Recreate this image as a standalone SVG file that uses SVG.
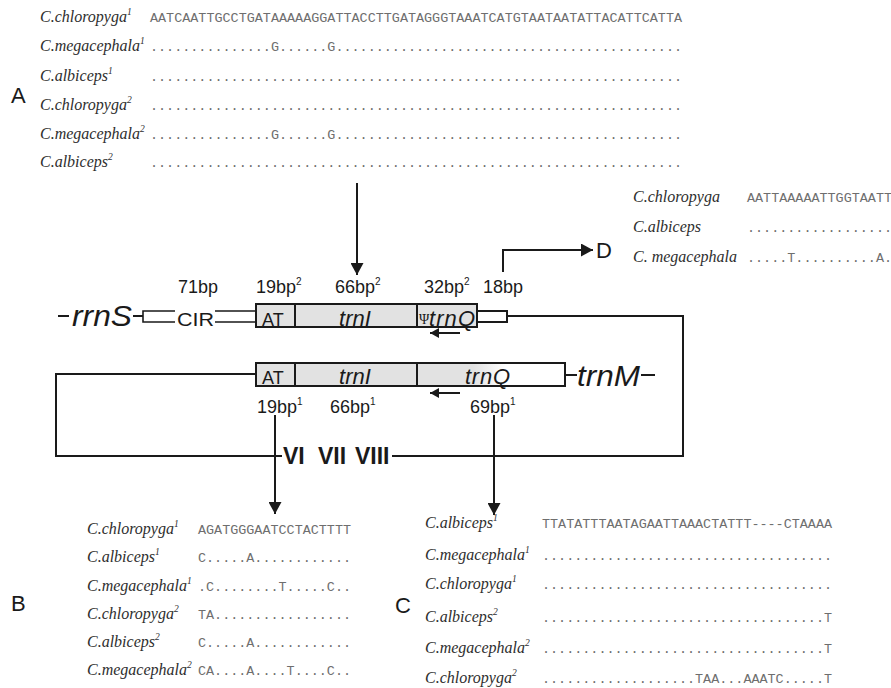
<svg xmlns="http://www.w3.org/2000/svg" width="891" height="688" viewBox="0 0 891 688">
<style>
.ln{stroke:#1a1a1a;stroke-width:2;fill:none}
.thin{stroke:#1a1a1a;stroke-width:1.6;fill:none}
.box{stroke:#1a1a1a;stroke-width:2;fill:#e2e2e2}
.wbox{stroke:#1a1a1a;stroke-width:2;fill:#ffffff}
.lab{font-family:"Liberation Sans",Arial,sans-serif;font-size:18px;fill:#1a1a1a}
.sup{font-size:10px}
.gene{font-family:"Liberation Sans",Arial,sans-serif;font-style:italic;font-size:22px;fill:#1a1a1a}
.big{font-family:"Liberation Sans",Arial,sans-serif;font-style:italic;font-size:29px;fill:#1a1a1a}
.roman{font-family:"Liberation Sans",Arial,sans-serif;font-weight:bold;font-size:23px;fill:#1a1a1a}
.sp{font-family:"Liberation Serif","Times New Roman",serif;font-style:italic;font-size:16px;fill:#2e2e2e}
.ssup{font-size:9.5px}
.seq{font-family:"Liberation Mono","Courier New",monospace;font-size:13.43px;fill:#6e6e6e}
.pan{font-family:"Liberation Sans",Arial,sans-serif;font-size:22px;fill:#1a1a1a}
</style>
<defs>
<marker id="ah" markerWidth="13" markerHeight="13" refX="12" refY="6.5" orient="auto" markerUnits="userSpaceOnUse"><path d="M0,0 L12,6.5 L0,13 z" fill="#1a1a1a"/></marker>
<marker id="ahs" markerWidth="10" markerHeight="10" refX="9" refY="5" orient="auto" markerUnits="userSpaceOnUse"><path d="M0,0 L9,5 L0,10 z" fill="#1a1a1a"/></marker>
<linearGradient id="fade" x1="417" y1="0" x2="565" y2="0" gradientUnits="userSpaceOnUse">
<stop offset="0" stop-color="#e2e2e2"/><stop offset="0.38" stop-color="#e2e2e2"/><stop offset="0.6" stop-color="#ffffff"/><stop offset="1" stop-color="#ffffff"/>
</linearGradient>
</defs>
<rect width="891" height="688" fill="#ffffff"/>

<!-- Panel A -->
<g id="panel-A">
<text class="pan" x="11" y="103">A</text>
<text class="sp" x="40" y="22">C.chloropyga<tspan class="ssup" dy="-7">1</tspan></text>
<text class="sp" x="40" y="51">C.megacephala<tspan class="ssup" dy="-7">1</tspan></text>
<text class="sp" x="40" y="81">C.albiceps<tspan class="ssup" dy="-7">1</tspan></text>
<text class="sp" x="40" y="110">C.chloropyga<tspan class="ssup" dy="-7">2</tspan></text>
<text class="sp" x="40" y="139">C.megacephala<tspan class="ssup" dy="-7">2</tspan></text>
<text class="sp" x="40" y="167">C.albiceps<tspan class="ssup" dy="-7">2</tspan></text>
<text class="seq" x="150" y="22" textLength="532" lengthAdjust="spacing">AATCAATTGCCTGATAAAAAGGATTACCTTGATAGGGTAAATCATGTAATAATATTACATTCATTA</text>
<text class="seq" x="150" y="51" textLength="532" lengthAdjust="spacing">...............G......G...........................................</text>
<text class="seq" x="150" y="81" textLength="532" lengthAdjust="spacing">..................................................................</text>
<text class="seq" x="150" y="110" textLength="532" lengthAdjust="spacing">..................................................................</text>
<text class="seq" x="150" y="139" textLength="532" lengthAdjust="spacing">...............G......G...........................................</text>
<text class="seq" x="150" y="167" textLength="532" lengthAdjust="spacing">..................................................................</text>
</g>

<!-- Panel D -->
<g id="panel-D">
<text class="pan" x="596" y="258">D</text>
<text class="sp" x="633" y="202">C.chloropyga</text>
<text class="sp" x="633" y="232">C.albiceps</text>
<text class="sp" x="633" y="262">C. megacephala</text>
<text class="seq" x="747" y="202" textLength="145" lengthAdjust="spacing">AATTAAAAATTGGTAATT</text>
<text class="seq" x="747" y="232" textLength="145" lengthAdjust="spacing">..................</text>
<text class="seq" x="747" y="262" textLength="145" lengthAdjust="spacing">.....T..........A.</text>
</g>

<!-- Gene map: upper copy -->
<g id="rrnS">
<text class="big" x="72" y="326" textLength="60" lengthAdjust="spacingAndGlyphs">rrnS</text>
</g>
<g id="CIR">
<path class="thin" d="M175,311 H143 V322 H175 M215,311 H256 M215,322 H256"/>
<text class="lab" x="177" y="326" font-size="19" textLength="37" lengthAdjust="spacingAndGlyphs">CIR</text>
<text class="lab" x="178" y="293">71bp</text>
</g>
<g id="AT-2">
<rect class="box" x="256" y="304" width="39" height="23"/>
<text class="lab" x="262" y="326" font-size="22">AT</text>
<text class="lab" x="256" y="293">19bp<tspan class="sup" dy="-8">2</tspan></text>
</g>
<g id="trnI-2">
<rect class="box" x="295" y="304" width="122" height="23"/>
<text class="gene" x="355" y="326" text-anchor="middle">trnI</text>
<text class="lab" x="335" y="293">66bp<tspan class="sup" dy="-8">2</tspan></text>
</g>
<g id="psi-trnQ">
<rect class="box" x="417" y="304" width="60" height="23"/>
<text x="419" y="324" font-family="Liberation Serif,serif" font-size="14" fill="#1a1a1a">Ψ</text>
<text class="gene" x="429" y="326" textLength="46" lengthAdjust="spacing">trnQ</text>
<text class="lab" x="424" y="293">32bp<tspan class="sup" dy="-8">2</tspan></text>
</g>
<g id="spacer-18bp">
<rect class="wbox" x="477" y="311" width="30" height="11"/>
<text class="lab" x="483" y="293">18bp</text>
</g>

<!-- Gene map: lower copy -->
<g id="AT-1">
<rect class="box" x="256" y="363" width="39" height="23"/>
<text class="lab" x="262" y="384" font-size="22">AT</text>
<text class="lab" x="257" y="413">19bp<tspan class="sup" dy="-8">1</tspan></text>
</g>
<g id="trnI-1">
<rect class="box" x="295" y="363" width="122" height="23"/>
<text class="gene" x="355" y="384" text-anchor="middle">trnI</text>
<text class="lab" x="330" y="413">66bp<tspan class="sup" dy="-8">1</tspan></text>
</g>
<g id="trnQ-1">
<rect x="417" y="363" width="148" height="23" fill="url(#fade)" stroke="#1a1a1a" stroke-width="2"/>
<text class="gene" x="465" y="384" textLength="45" lengthAdjust="spacing">trnQ</text>
<text class="lab" x="470" y="413">69bp<tspan class="sup" dy="-8">1</tspan></text>
</g>
<g id="trnM">
<text class="big" x="577" y="386" textLength="63" lengthAdjust="spacingAndGlyphs">trnM</text>
</g>
<g id="VI-VII-VIII">
<text class="roman" x="283" y="464">VI</text>
<text class="roman" x="318" y="464">VII</text>
<text class="roman" x="355" y="464">VIII</text>
</g>

<!-- Connectors -->
<g id="connectors">
<path class="ln" d="M58,316 H69"/>
<path class="ln" d="M133,316 H143"/>
<path class="ln" d="M507,316 H683 V456 H392"/>
<path class="ln" d="M256,374 H56 V456 H282"/>
<path class="ln" d="M565,375 H577"/>
<path class="ln" d="M641,375 H655"/>
<path class="ln" d="M357,183 V275" marker-end="url(#ah)"/>
<path class="ln" d="M503,272 V250 H593" marker-end="url(#ah)"/>
<path class="ln" d="M275,415 V514" marker-end="url(#ah)"/>
<path class="ln" d="M494,415 V515" marker-end="url(#ah)"/>
<path class="ln" d="M460,333 H430" marker-end="url(#ahs)"/>
<path class="ln" d="M460,393 H430" marker-end="url(#ahs)"/>
</g>

<!-- Panel B -->
<g id="panel-B">
<text class="pan" x="11" y="611">B</text>
<text class="sp" x="87" y="534">C.chloropyga<tspan class="ssup" dy="-7">1</tspan></text>
<text class="sp" x="87" y="562">C.albiceps<tspan class="ssup" dy="-7">1</tspan></text>
<text class="sp" x="87" y="591">C.megacephala<tspan class="ssup" dy="-7">1</tspan></text>
<text class="sp" x="87" y="619">C.chloropyga<tspan class="ssup" dy="-7">2</tspan></text>
<text class="sp" x="87" y="647">C.albiceps<tspan class="ssup" dy="-7">2</tspan></text>
<text class="sp" x="87" y="675">C.megacephala<tspan class="ssup" dy="-7">2</tspan></text>
<text class="seq" x="198" y="534" textLength="153" lengthAdjust="spacing">AGATGGGAATCCTACTTTT</text>
<text class="seq" x="198" y="562" textLength="153" lengthAdjust="spacing">C.....A............</text>
<text class="seq" x="198" y="591" textLength="153" lengthAdjust="spacing">.C........T.....C..</text>
<text class="seq" x="198" y="619" textLength="153" lengthAdjust="spacing">TA.................</text>
<text class="seq" x="198" y="647" textLength="153" lengthAdjust="spacing">C.....A............</text>
<text class="seq" x="198" y="675" textLength="153" lengthAdjust="spacing">CA....A....T....C..</text>
</g>

<!-- Panel C -->
<g id="panel-C">
<text class="pan" x="395" y="613">C</text>
<text class="sp" x="425" y="528">C.albiceps<tspan class="ssup" dy="-7">1</tspan></text>
<text class="sp" x="425" y="560">C.megacephala<tspan class="ssup" dy="-7">1</tspan></text>
<text class="sp" x="425" y="589">C.chloropyga<tspan class="ssup" dy="-7">1</tspan></text>
<text class="sp" x="425" y="622">C.albiceps<tspan class="ssup" dy="-7">2</tspan></text>
<text class="sp" x="425" y="653">C.megacephala<tspan class="ssup" dy="-7">2</tspan></text>
<text class="sp" x="425" y="683">C.chloropyga<tspan class="ssup" dy="-7">2</tspan></text>
<text class="seq" x="542" y="528" textLength="290" lengthAdjust="spacing">TTATATTTAATAGAATTAAACTATTT----CTAAAA</text>
<text class="seq" x="542" y="560" textLength="290" lengthAdjust="spacing">....................................</text>
<text class="seq" x="542" y="589" textLength="290" lengthAdjust="spacing">....................................</text>
<text class="seq" x="542" y="622" textLength="290" lengthAdjust="spacing">...................................T</text>
<text class="seq" x="542" y="653" textLength="290" lengthAdjust="spacing">...................................T</text>
<text class="seq" x="542" y="683" textLength="290" lengthAdjust="spacing">...................TAA...AAATC.....T</text>
</g>
</svg>
